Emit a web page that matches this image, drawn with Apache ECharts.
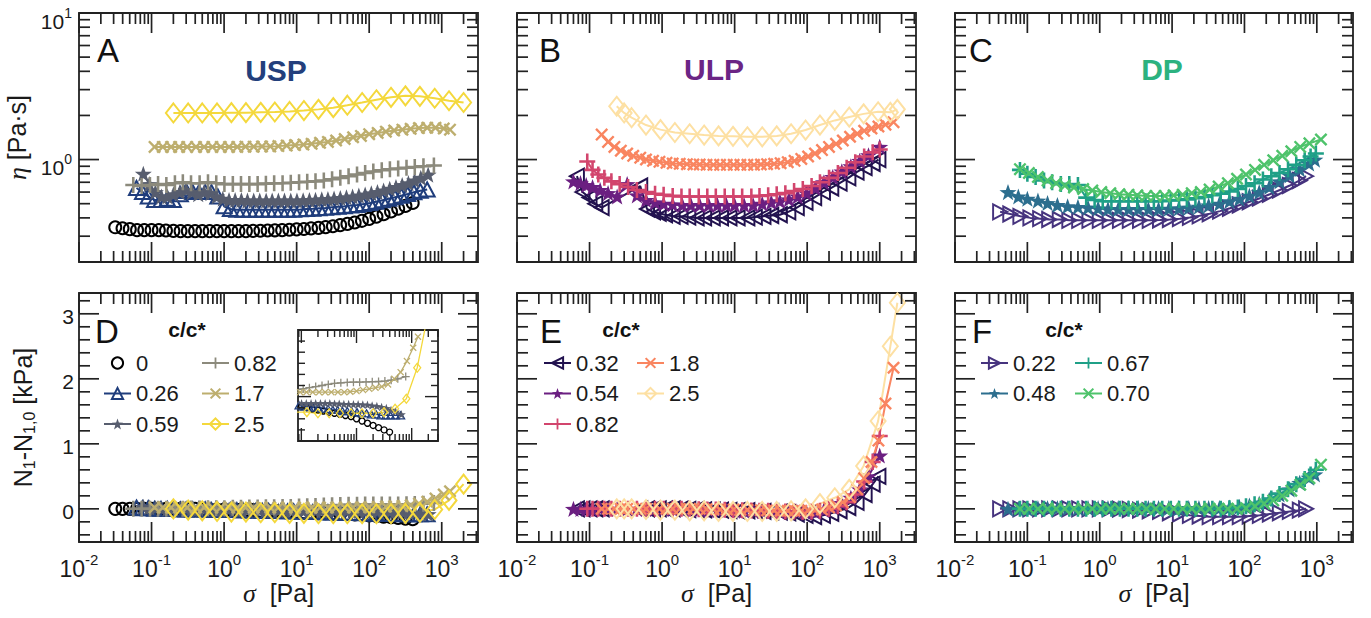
<!DOCTYPE html>
<html><head><meta charset="utf-8">
<script src="https://cdn.jsdelivr.net/npm/echarts@6.0.0/dist/echarts.min.js"></script>
<style>html,body{margin:0;padding:0;background:#fff}#c{width:1371px;height:618px}</style>
</head><body><div id="c"></div>
<script>
// ---------------- DATA ----------------
// USP (c/c*)
const USP_0_SIG = [0.0316,0.0398,0.0501,0.0631,0.0794,0.1,0.126,0.158,0.2,0.251, 0.316,0.398,0.501,0.631,0.794,1,1.26,1.58,2,2.51, 3.16,3.98,5.01,6.31,7.94,10,12.6,15.8,20,25.1, 31.6,39.8,50.1,63.1,79.4,100,126,158,200,251, 316,398];
const USP_0_ETA = [0.345,0.34,0.335,0.33,0.33,0.33,0.33,0.328,0.326,0.325, 0.325,0.325,0.325,0.325,0.325,0.325,0.325,0.325,0.325,0.326, 0.327,0.328,0.329,0.33,0.332,0.334,0.336,0.339,0.342,0.346, 0.351,0.357,0.364,0.372,0.382,0.394,0.408,0.424,0.442,0.462, 0.483,0.505];
const USP_0_N1 = [0,0,0,0,0,0,0,0,0,0, 0,0,-0.01,-0.01,-0.01,-0.01,-0.02,-0.02,-0.02,-0.02, -0.03,-0.03,-0.03,-0.04,-0.04,-0.045,-0.05,-0.055,-0.06,-0.065, -0.07,-0.075,-0.08,-0.085,-0.09,-0.1,-0.11,-0.12,-0.13,-0.14, -0.15,-0.16];

const USP_026_SIG = [0.062,0.075,0.09,0.11,0.135,0.165,0.2,0.25,0.3,0.37, 0.45,0.55,0.67,0.82,1,1.22,1.5,1.83,2.24,2.74, 3.35,4.1,5,6.1,7.5,9.1,11.2,13.7,16.7,20.4, 25,30.5,37.3,45.6,55.7,68,83,102,124,152, 186,227,277,339,414,506,630];
const USP_026_ETA = [0.64,0.6,0.56,0.53,0.53,0.54,0.53,0.58,0.61,0.6, 0.6,0.6,0.6,0.56,0.48,0.46,0.455,0.455,0.455,0.455, 0.455,0.455,0.455,0.455,0.455,0.455,0.457,0.46,0.462,0.465, 0.468,0.472,0.476,0.48,0.485,0.49,0.497,0.505,0.515,0.527, 0.54,0.553,0.567,0.582,0.598,0.612,0.625];
const USP_026_N1 = [0.02,0.01,0.01,0,0,0,0,-0.01,-0.01,-0.01, -0.01,-0.01,-0.02,-0.02,-0.02,-0.02,-0.02,-0.025,-0.025,-0.03, -0.03,-0.03,-0.035,-0.035,-0.04,-0.04,-0.045,-0.045,-0.05,-0.05, -0.055,-0.055,-0.06,-0.06,-0.065,-0.065,-0.07,-0.07,-0.075,-0.075, -0.08,-0.08,-0.085,-0.085,-0.085,-0.085,-0.085];

const USP_059_SIG = [0.077,0.093,0.113,0.137,0.166,0.2,0.245,0.3,0.36,0.44, 0.53,0.65,0.79,0.96,1.17,1.42,1.73,2.1,2.56,3.1, 3.8,4.6,5.6,6.8,8.3,10.1,12.3,15,18.2,22.2, 27,32.8,40,48.6,59,72,88,107,130,158, 192,234,285,347,422,514,650];
const USP_059_ETA = [0.8,0.68,0.6,0.56,0.56,0.58,0.6,0.62,0.6,0.58, 0.6,0.59,0.56,0.54,0.53,0.53,0.53,0.525,0.525,0.525, 0.525,0.525,0.525,0.525,0.525,0.525,0.527,0.53,0.532,0.535, 0.538,0.542,0.547,0.553,0.56,0.568,0.577,0.588,0.6,0.615, 0.632,0.65,0.67,0.69,0.72,0.75,0.79];
const USP_059_N1 = [0.03,0.02,0.01,0,0,0,0,0,0,0, 0,-0.005,-0.005,-0.01,-0.01,-0.01,-0.015,-0.015,-0.02,-0.02, -0.02,-0.025,-0.025,-0.025,-0.03,-0.03,-0.03,-0.03,-0.03,-0.03, -0.03,-0.03,-0.032,-0.032,-0.034,-0.034,-0.035,-0.035,-0.036,-0.037, -0.04,-0.043,-0.047,-0.052,-0.06,-0.068,-0.08];

const USP_082_SIG = [0.056,0.073,0.095,0.123,0.16,0.21,0.27,0.35,0.46,0.6, 0.78,1.01,1.32,1.71,2.23,2.9,3.77,4.9,6.4,8.3, 10.8,14,18.2,23.7,30.8,40,52,68,88,114, 149,193,251,327,425,560,780];
const USP_082_ETA = [0.67,0.66,0.67,0.68,0.67,0.69,0.7,0.69,0.69,0.7, 0.69,0.68,0.68,0.68,0.68,0.68,0.685,0.69,0.69,0.695, 0.7,0.705,0.71,0.72,0.735,0.75,0.77,0.79,0.81,0.83, 0.845,0.86,0.87,0.88,0.89,0.9,0.91];
const USP_082_N1 = [0,0,0,0,0,0,0,0.005,0.005,0.01, 0.01,0.01,0.015,0.015,0.02,0.02,0.025,0.025,0.03,0.03, 0.035,0.04,0.045,0.05,0.055,0.06,0.062,0.064,0.065,0.065, 0.066,0.067,0.068,0.07,0.074,0.08,0.09];

const USP_17_SIG = [0.11,0.143,0.186,0.24,0.31,0.41,0.53,0.69,0.9,1.17, 1.52,1.97,2.56,3.33,4.33,5.6,7.3,9.5,12.4,16.1, 21,27,35,46,60,77,100,131,170,221, 287,373,485,631,820,1066,1300];
const USP_17_ETA = [1.22,1.22,1.22,1.22,1.22,1.22,1.22,1.22,1.22,1.22, 1.22,1.225,1.225,1.23,1.23,1.235,1.245,1.255,1.265,1.28, 1.3,1.32,1.35,1.38,1.42,1.45,1.49,1.52,1.55,1.58, 1.6,1.62,1.64,1.65,1.65,1.63,1.6];
const USP_17_N1 = [0.02,0.02,0.02,0.02,0.02,0.02,0.02,0.02,0.02,0.02, 0.02,0.02,0.02,0.02,0.02,0.02,0.02,0.02,0.02,0.02, 0.02,0.02,0.02,0.02,0.02,0.022,0.025,0.03,0.035,0.04, 0.045,0.055,0.08,0.11,0.16,0.22,0.27];

const USP_25_SIG = [0.2,0.32,0.5,0.8,1.26,2,3.2,5,8,12.6, 20,32,50,80,126,200,316,500,800,1260, 2000];
const USP_25_ETA = [2.08,2.08,2.08,2.08,2.09,2.09,2.1,2.11,2.13,2.16, 2.2,2.26,2.35,2.45,2.56,2.66,2.72,2.7,2.62,2.52, 2.45];
const USP_25_N1 = [0,-0.02,-0.03,-0.04,-0.05,-0.05,-0.06,-0.06,-0.07,-0.07, -0.075,-0.075,-0.075,-0.075,-0.075,-0.075,-0.07,-0.055,-0.01,0.13, 0.38];

// ULP
const ULP_032_SIG = [0.067,0.08,0.1,0.12,0.147,0.5,0.62,0.75,0.9,1.1, 1.4,1.8,2.3,3,3.8,5,6.5,8.5,11,15, 19,25,32,42,55,72,95,125,165,215, 280,370,480,620,800,960];
const ULP_032_ETA = [0.77,0.6,0.55,0.5,0.47,0.66,0.46,0.44,0.43,0.42, 0.41,0.41,0.405,0.4,0.4,0.4,0.4,0.4,0.4,0.4, 0.405,0.41,0.415,0.42,0.44,0.47,0.51,0.55,0.6,0.64, 0.69,0.75,0.82,0.88,0.94,1.0];
const ULP_032_N1 = [0,0,0,0,0,0,0,0,0,0, 0,-0.005,-0.01,-0.01,-0.015,-0.02,-0.02,-0.025,-0.03,-0.03, -0.035,-0.04,-0.045,-0.05,-0.06,-0.08,-0.1,-0.12,-0.1,-0.07, -0.03,0.02,0.1,0.22,0.38,0.5];

const ULP_054_SIG = [0.06,0.075,0.09,0.11,0.14,0.18,0.24,0.33,0.45,0.6, 0.8,1.05,1.4,1.9,2.5,3.3,4.4,5.8,7.7,10, 13.5,18,24,32,42,56,74,98,130,170, 225,300,400,530,700,1000];
const ULP_054_ETA = [0.71,0.69,0.67,0.65,0.62,0.59,0.56,0.68,0.57,0.53, 0.51,0.5,0.495,0.49,0.49,0.49,0.49,0.49,0.49,0.49, 0.49,0.49,0.5,0.51,0.52,0.535,0.56,0.59,0.64,0.7, 0.76,0.83,0.9,0.98,1.07,1.22];
const ULP_054_N1 = [0,0,0,0,0,0,0,0,0,0, 0,0,0,-0.005,-0.01,-0.01,-0.015,-0.02,-0.02,-0.025, -0.03,-0.03,-0.035,-0.04,-0.045,-0.05,-0.055,-0.06,-0.05,-0.02, 0.03,0.09,0.17,0.3,0.5,0.82];

const ULP_082_SIG = [0.093,0.11,0.132,0.16,0.2,0.26,0.34,0.45,0.6,0.8, 1.05,1.4,1.85,2.4,3.2,4.2,5.5,7.3,9.6,12.7, 17,22,29,38,50,66,87,115,150,200, 265,350,460,610,800,1000];
const ULP_082_ETA = [0.97,0.85,0.79,0.75,0.71,0.68,0.65,0.62,0.6,0.585, 0.575,0.565,0.56,0.56,0.56,0.56,0.56,0.56,0.56,0.56, 0.56,0.565,0.57,0.58,0.59,0.61,0.63,0.66,0.7,0.75, 0.81,0.88,0.96,1.05,1.12,1.17];
const ULP_082_N1 = [0,0,0,0,0,0,0,0,0,0, 0,0,0,0,-0.005,-0.01,-0.01,-0.015,-0.02,-0.02, -0.025,-0.03,-0.03,-0.035,-0.04,-0.04,-0.045,-0.04,-0.03,0, 0.04,0.1,0.22,0.42,0.72,1.12];

const ULP_18_SIG = [0.147,0.18,0.22,0.27,0.33,0.4,0.5,0.6,0.75,0.92, 1.15,1.4,1.75,2.2,2.7,3.3,4.1,5.1,6.3,7.8, 9.7,12,15,18.5,23,28,35,43,54,67, 83,103,128,160,200,250,310,390,490,610, 770,960,1200,1550];
const ULP_18_ETA = [1.48,1.32,1.22,1.15,1.1,1.06,1.03,1.0,0.98,0.965, 0.95,0.94,0.935,0.93,0.925,0.925,0.92,0.92,0.92,0.92, 0.92,0.92,0.92,0.92,0.925,0.93,0.935,0.945,0.96,0.98, 1.01,1.05,1.1,1.16,1.22,1.28,1.35,1.43,1.5,1.57, 1.63,1.68,1.73,1.8];
const ULP_18_N1 = [0,0,0,0,0,0,0,0,0,0, 0,0,0,0,0,0,-0.005,-0.005,-0.01,-0.01, -0.01,-0.015,-0.015,-0.02,-0.02,-0.025,-0.025,-0.03,-0.03,-0.03, -0.03,-0.025,-0.02,-0.01,0.02,0.05,0.1,0.18,0.3,0.47, 0.72,1.05,1.62,2.17];

const ULP_25_SIG = [0.237,0.3,0.38,0.6,0.95,1.5,2.4,3.8,6,9.5, 15,24,38,60,95,150,240,380,600,950, 1400,1750];
const ULP_25_ETA = [2.31,2.08,1.93,1.72,1.6,1.53,1.5,1.47,1.45,1.44, 1.43,1.43,1.45,1.5,1.59,1.72,1.85,1.95,2.05,2.12, 2.1,2.2];
const ULP_25_N1 = [0,0,0,-0.01,-0.02,-0.02,-0.03,-0.03,-0.04,-0.04, -0.04,-0.04,-0.04,-0.03,0,0.08,0.17,0.3,0.66,1.35, 2.5,3.17];

// DP
const DP_022_SIG = [0.042,0.058,0.08,0.11,0.15,0.2,0.28,0.38,0.52,0.72, 1,1.37,1.9,2.6,3.6,4.9,6.8,9.3,12.8,17.6, 24,33,46,63,86,118,163,224,308,423, 581,710];
const DP_022_ETA = [0.44,0.425,0.41,0.4,0.395,0.39,0.39,0.385,0.385,0.385, 0.385,0.385,0.385,0.385,0.385,0.385,0.387,0.39,0.395,0.403, 0.413,0.427,0.445,0.465,0.49,0.515,0.545,0.58,0.62,0.665, 0.72,0.77];
const DP_022_N1 = [0,0,0,0,0,0,0,0,0,0, 0,0,-0.005,-0.01,-0.02,-0.03,-0.04,-0.06,-0.08,-0.1, -0.11,-0.12,-0.12,-0.12,-0.12,-0.11,-0.1,-0.08,-0.06,-0.04, -0.02,0];

const DP_048_SIG = [0.054,0.075,0.1,0.14,0.19,0.26,0.36,0.5,0.69,0.95, 1.3,1.8,2.5,3.4,4.7,6.5,9,12.4,17,23.5, 32,45,62,85,117,160,220,305,420,580, 780,940];
const DP_048_ETA = [0.6,0.56,0.54,0.525,0.505,0.49,0.48,0.475,0.47,0.465, 0.46,0.46,0.46,0.46,0.46,0.46,0.462,0.465,0.47,0.477, 0.487,0.5,0.52,0.54,0.565,0.6,0.65,0.71,0.78,0.86, 0.94,1.0];
const DP_048_N1 = [0,0,0,0.01,0.01,0.01,0.01,0.01,0.01,0.01, 0.01,0.01,0.01,0.01,0.01,0.01,0.01,0.01,0.01,0.01, 0.01,0.01,0.02,0.03,0.05,0.08,0.14,0.22,0.3,0.4, 0.48,0.53];

const DP_067_SIG = [0.079,0.1,0.13,0.17,0.22,0.29,0.38,0.5,0.65,0.85, 1.1,1.45,1.9,2.5,3.3,4.3,5.6,7.3,9.6,12.5, 16,21,28,36,47,62,81,105,138,180, 235,305,400,520,680,820,970];
const DP_067_ETA = [0.85,0.8,0.76,0.72,0.7,0.68,0.68,0.67,0.55,0.53, 0.52,0.52,0.52,0.52,0.52,0.52,0.52,0.52,0.525,0.53, 0.535,0.545,0.555,0.57,0.585,0.605,0.63,0.66,0.69,0.73, 0.77,0.81,0.86,0.92,0.99,1.05,1.1];
const DP_067_N1 = [0,0,0,0,0,0,0,0,0,0, 0,0,0,0,0,0,0,0,0,0, 0,0,0,0,0,0.01,0.02,0.04,0.07,0.11, 0.16,0.23,0.3,0.38,0.46,0.53,0.6];

const DP_070_SIG = [0.079,0.105,0.14,0.19,0.25,0.33,0.44,0.59,0.79,1.05, 1.4,1.87,2.5,3.3,4.4,5.9,7.9,10.5,14,18.7, 25,33,44,59,79,105,140,187,250,333, 444,590,790,1140];
const DP_070_ETA = [0.86,0.81,0.76,0.72,0.69,0.665,0.645,0.63,0.615,0.6, 0.59,0.58,0.575,0.57,0.565,0.565,0.565,0.57,0.575,0.59, 0.6,0.625,0.655,0.69,0.74,0.79,0.85,0.92,0.99,1.06, 1.14,1.22,1.29,1.37];
const DP_070_N1 = [0,0,0,0,0,0,0,0,0,0, 0,0,0,0,0,0,0,0,0,0, 0,0,0,0,0,0.01,0.04,0.08,0.13,0.2, 0.28,0.37,0.47,0.68];

// axis ranges and tick values
const X_RANGE = [0.01, 3162.28];
const INSET_X_RANGE = [8.7, 3000];
const ETA_RANGE = [0.2, 10];
const N1_RANGE = [-0.51, 3.32];
const INSET_Y_RANGE = [-0.2, 0.3];
const N1_TICKS = [-0.4,-0.2,0,0.2,0.4,0.6,0.8,1,1.2,1.4,1.6,1.8,2,2.2,2.4,2.6,2.8,3,3.2];
const N1_LABELS = [0, 1, 2, 3];
const INSET_Y_TICKS = [-0.15,-0.1,-0.05,0,0.05,0.1,0.15,0.2,0.25];

// ---------------- STYLE ----------------
const FONT = '"Liberation Sans", Arial, sans-serif';
const SERIF = '"Liberation Serif", "DejaVu Serif", serif';
const TXT = '#1a1a1a';
const STAR = 'path://M5,0L6.18,3.38L9.76,3.45L6.9,5.62L7.94,9.05L5,7L2.06,9.05L3.1,5.62L0.24,3.45L3.82,3.38Z';
const PLUS = 'path://M4.2,0L5.8,0L5.8,4.2L10,4.2L10,5.8L5.8,5.8L5.8,10L4.2,10L4.2,5.8L0,5.8L0,4.2L4.2,4.2Z';
const CROSS = 'path://M0,1.3L1.3,0L5,3.7L8.7,0L10,1.3L6.3,5L10,8.7L8.7,10L5,6.3L1.3,10L0,8.7L3.7,5Z';
const SYM = {
  circle: {symbol:'circle', size:12, sizeS:6, hollow:true, rot:0},
  triUp: {symbol:'triangle', size:[15,14], sizeS:[8,7], hollow:true, rot:0},
  triLeft: {symbol:'triangle', size:[15,14], sizeS:[8,7], hollow:true, rot:90},
  triRight: {symbol:'triangle', size:[15,14], sizeS:[8,7], hollow:true, rot:-90},
  star: {symbol:STAR, size:17, sizeS:9, hollow:false, rot:0},
  plus: {symbol:PLUS, size:16, sizeS:8, hollow:false, rot:0},
  cross: {symbol:CROSS, size:13, sizeS:7, hollow:false, rot:0},
  diamond: {symbol:'diamond', size:[15,19], sizeS:[7,9], hollow:true, rot:0}
};

const SAMPLES = {
  USP: [
    {label:'0', color:'#000000', style:'circle', noLine:true, sig:USP_0_SIG, eta:USP_0_ETA, n1:USP_0_N1},
    {label:'0.26', color:'#1f3d7c', style:'triUp', sig:USP_026_SIG, eta:USP_026_ETA, n1:USP_026_N1},
    {label:'0.59', color:'#575d6e', style:'star', sig:USP_059_SIG, eta:USP_059_ETA, n1:USP_059_N1},
    {label:'0.82', color:'#8c8a7c', style:'plus', sig:USP_082_SIG, eta:USP_082_ETA, n1:USP_082_N1},
    {label:'1.7', color:'#bdae6e', style:'cross', sig:USP_17_SIG, eta:USP_17_ETA, n1:USP_17_N1},
    {label:'2.5', color:'#f4d83c', style:'diamond', sig:USP_25_SIG, eta:USP_25_ETA, n1:USP_25_N1}
  ],
  ULP: [
    {label:'0.32', color:'#22124f', style:'triLeft', sig:ULP_032_SIG, eta:ULP_032_ETA, n1:ULP_032_N1},
    {label:'0.54', color:'#6b1f81', style:'star', sig:ULP_054_SIG, eta:ULP_054_ETA, n1:ULP_054_N1},
    {label:'0.82', color:'#d2456d', style:'plus', sig:ULP_082_SIG, eta:ULP_082_ETA, n1:ULP_082_N1},
    {label:'1.8', color:'#f98560', style:'cross', sig:ULP_18_SIG, eta:ULP_18_ETA, n1:ULP_18_N1},
    {label:'2.5', color:'#fde0a3', style:'diamond', sig:ULP_25_SIG, eta:ULP_25_ETA, n1:ULP_25_N1}
  ],
  DP: [
    {label:'0.22', color:'#46337e', style:'triRight', sig:DP_022_SIG, eta:DP_022_ETA, n1:DP_022_N1},
    {label:'0.48', color:'#2c6e8e', style:'star', sig:DP_048_SIG, eta:DP_048_ETA, n1:DP_048_N1},
    {label:'0.67', color:'#1fa087', style:'plus', sig:DP_067_SIG, eta:DP_067_ETA, n1:DP_067_N1},
    {label:'0.70', color:'#4ec36b', style:'cross', sig:DP_070_SIG, eta:DP_070_ETA, n1:DP_070_N1}
  ]
};
Object.keys(SAMPLES).forEach(k => SAMPLES[k].forEach(s => {
  if (s.sig.length !== s.eta.length || s.sig.length !== s.n1.length)
    throw new Error('length mismatch ' + k + ' ' + s.label + ' ' + s.sig.length + '/' + s.eta.length + '/' + s.n1.length);
}));

// ---------------- LAYOUT ----------------
const GRIDS = [
  {left:79, top:13, width:399, height:249},
  {left:517, top:13, width:399, height:249},
  {left:955, top:13, width:398, height:249},
  {left:79, top:293, width:399, height:249},
  {left:517, top:293, width:399, height:249},
  {left:955, top:293, width:398, height:249},
  {left:298, top:330, width:140, height:111}
];

const XLBL_RICH = {
  b: {fontSize:23, lineHeight:28, verticalAlign:'bottom', color:TXT, fontFamily:FONT},
  s: {fontSize:15, lineHeight:14, verticalAlign:'top', color:TXT, fontFamily:FONT}
};
const YLBL_RICH = {
  b: {fontSize:21, lineHeight:26, verticalAlign:'bottom', color:TXT, fontFamily:FONT},
  s: {fontSize:14, lineHeight:12, verticalAlign:'top', color:TXT, fontFamily:FONT}
};
const NAME_RICH = {
  b: {fontSize:25, lineHeight:28, color:TXT, fontFamily:FONT},
  i: {fontSize:26, lineHeight:28, color:TXT, fontFamily:SERIF, fontStyle:'italic'},
  u: {fontSize:16, lineHeight:14, verticalAlign:'bottom', color:TXT, fontFamily:FONT}
};
function logLabel(v) {
  const e = Math.log10(v), r = Math.round(e);
  if (Math.abs(e - r) > 1e-6) return '';
  return '{b|10}{s|' + r + '}';
}
function intLabel(v) {
  const r = Math.round(v);
  return (Math.abs(v - r) < 1e-6 && N1_LABELS.indexOf(r) >= 0) ? '{b|' + r + '}' : '';
}
function logTicks(lo, hi) {
  const out = [];
  for (let e = Math.floor(Math.log10(lo)); e <= Math.ceil(Math.log10(hi)); e++)
    for (let k = 1; k <= 9; k++) {
      const v = k * Math.pow(10, e);
      if (v >= lo * 0.999 && v <= hi * 1.001) out.push([v, k === 1 ? 1 : 0]);
    }
  return out;
}
function linTicks(list, majorFn) { return list.map(v => [v, majorFn(v) ? 1 : 0]); }

const xAxes = [], yAxes = [];
GRIDS.forEach((g, gi) => {
  const inset = gi === 6, bottom = gi >= 3 && gi <= 5;
  xAxes.push({
    gridIndex: gi, type: 'log', logBase: 10,
    min: inset ? INSET_X_RANGE[0] : X_RANGE[0], max: inset ? INSET_X_RANGE[1] : X_RANGE[1],
    axisLine: {show: false, onZero: false}, axisTick: {show: false}, splitLine: {show: false},
    minorTick: {show: false}, minorSplitLine: {show: false},
    axisLabel: bottom ? {show: true, formatter: logLabel, rich: XLBL_RICH, margin: 10, hideOverlap: false} : {show: false},
    name: bottom ? '{i|σ}{b|  [Pa]}' : '', nameLocation: 'middle', nameGap: 37, nameMoveOverlap: false,
    nameTextStyle: {rich: NAME_RICH}
  });
  const top = gi <= 2;
  const y = {
    gridIndex: gi, axisLine: {show: false, onZero: false}, axisTick: {show: false}, splitLine: {show: false},
    minorTick: {show: false}, minorSplitLine: {show: false}, axisLabel: {show: false}
  };
  if (top) { y.type = 'log'; y.logBase = 10; y.min = ETA_RANGE[0]; y.max = ETA_RANGE[1]; }
  else if (inset) { y.type = 'value'; y.min = INSET_Y_RANGE[0]; y.max = INSET_Y_RANGE[1]; }
  else { y.type = 'value'; y.min = N1_RANGE[0]; y.max = N1_RANGE[1]; }
  if (gi === 0) {
    y.axisLabel = {show: true, formatter: logLabel, rich: YLBL_RICH, margin: 7, padding: [11, 0, 0, 0]};
    y.name = '{i|η}{b| [Pa·s]}'; y.nameLocation = 'middle'; y.nameRotate = 90; y.nameGap = 48;
    y.nameMoveOverlap = false; y.nameTextStyle = {rich: NAME_RICH};
  }
  if (gi === 3) {
    y.axisLabel = {show: true, formatter: intLabel, rich: YLBL_RICH, margin: 5};
    y.name = '{b|N}{u|1}{b|-N}{u|1,0}{b| [kPa]}'; y.nameLocation = 'middle'; y.nameRotate = 90; y.nameGap = 42;
    y.nameMoveOverlap = false; y.nameTextStyle = {rich: NAME_RICH};
  }
  yAxes.push(y);
});

// ---------------- SERIES ----------------
const series = [];
function mk(name, gi, sig, vals, s, small) {
  const m = SYM[s.style];
  return {
    type: 'line', name, xAxisIndex: gi, yAxisIndex: gi,
    data: sig.map((x, i) => [x, vals[i]]),
    symbol: m.symbol, symbolSize: small ? m.sizeS : m.size, symbolRotate: m.rot, symbolKeepAspect: true,
    showSymbol: true, showAllSymbol: true, clip: true, silent: true, animation: false,
    lineStyle: {color: s.color, width: s.noLine ? 0 : (small ? 1.3 : 2), opacity: s.noLine ? 0 : 1},
    itemStyle: m.hollow ? {color: 'rgba(255,255,255,0)', borderColor: s.color, borderWidth: small ? 1.3 : 2}
                        : {color: s.color, borderWidth: 0},
    emphasis: {disabled: true}
  };
}
const PANELS = [['USP', 0, 3, 'D'], ['ULP', 1, 4, 'E'], ['DP', 2, 5, 'F']];
PANELS.forEach(([k, gt]) => SAMPLES[k].forEach(s => series.push(mk(k + 'eta|' + s.label, gt, s.sig, s.eta, s, false))));
PANELS.forEach(([k, gt, gb, L]) => SAMPLES[k].forEach(s => series.push(mk(L + '|' + s.label, gb, s.sig, s.n1, s, false))));
SAMPLES.USP.forEach(s => series.push(mk('inset|' + s.label, 6, s.sig, s.n1, s, true)));

// tick marks (drawn through the axes' own scales)
function tickSeries(gi, xr, yr, xt, yt, LMaj, LMin, lw) {
  const data = [];
  xt.forEach(t => data.push([t[0], yr[0], 0, t[1]]));
  yt.forEach(t => data.push([xr[0], t[0], 1, t[1]]));
  return {
    type: 'custom', xAxisIndex: gi, yAxisIndex: gi, silent: true, clip: false, z: 10, animation: false,
    encode: {x: 0, y: 1}, data,
    renderItem: function (params, api) {
      const kind = api.value(2), L = api.value(3) ? LMaj : LMin;
      const st = {stroke: '#222', lineWidth: lw};
      if (kind === 0) {
        const v = api.value(0);
        const b = api.coord([v, yr[0]]), t = api.coord([v, yr[1]]);
        return {type: 'group', children: [
          {type: 'line', shape: {x1: b[0], y1: b[1], x2: b[0], y2: b[1] - L}, style: st},
          {type: 'line', shape: {x1: t[0], y1: t[1], x2: t[0], y2: t[1] + L}, style: st}]};
      }
      const v = api.value(1);
      const l = api.coord([xr[0], v]), r = api.coord([xr[1], v]);
      return {type: 'group', children: [
        {type: 'line', shape: {x1: l[0], y1: l[1], x2: l[0] + L, y2: l[1]}, style: st},
        {type: 'line', shape: {x1: r[0], y1: r[1], x2: r[0] - L, y2: r[1]}, style: st}]};
    }
  };
}
const isInt = v => Math.abs(v - Math.round(v)) < 1e-9;
for (let gi = 0; gi < 6; gi++) {
  const yr = gi <= 2 ? ETA_RANGE : N1_RANGE;
  const yt = gi <= 2 ? logTicks(ETA_RANGE[0], ETA_RANGE[1]) : linTicks(N1_TICKS, isInt);
  series.push(tickSeries(gi, X_RANGE, yr, logTicks(X_RANGE[0], X_RANGE[1]), yt, 20, 11, 1.7));
}
series.push(tickSeries(6, INSET_X_RANGE, INSET_Y_RANGE, logTicks(INSET_X_RANGE[0], INSET_X_RANGE[1]),
  linTicks(INSET_Y_TICKS, v => Math.abs(v) < 1e-9), 13, 7, 1.4));

// legends
function legendCol(names, left, top) {
  return {
    data: names, left, top, orient: 'vertical', itemWidth: 27, itemHeight: 14, itemGap: 8.5, padding: 0,
    selectedMode: false, formatter: n => n.split('|')[1],
    textStyle: {fontSize: 22, lineHeight: 22, color: TXT, fontFamily: FONT}
  };
}
const legends = [
  legendCol(['D|0', 'D|0.26', 'D|0.59'], 103, 352),
  legendCol(['D|0.82', 'D|1.7', 'D|2.5'], 201, 352),
  legendCol(['E|0.32', 'E|0.54', 'E|0.82'], 543, 352),
  legendCol(['E|1.8', 'E|2.5'], 636, 352),
  legendCol(['F|0.22', 'F|0.48'], 980, 352),
  legendCol(['F|0.67', 'F|0.70'], 1074, 352)
];

// text annotations
function txt(t, x, y, size, color, weight, align) {
  return {type: 'text', x, y, silent: true, z: 20,
    style: {text: t, fontSize: size, fontFamily: FONT, fontWeight: weight || 'normal', fill: color,
      align: align || 'left', verticalAlign: 'middle'}};
}
const graphics = [
  txt('A', 97, 50, 33, '#111'), txt('B', 539, 50, 33, '#111'), txt('C', 969, 50, 33, '#111'),
  txt('D', 95, 331, 33, '#111'), txt('E', 540, 331, 33, '#111'), txt('F', 972, 331, 33, '#111'),
  txt('USP', 276, 70, 30, '#233f7c', 'bold', 'center'),
  txt('ULP', 714, 69, 30, '#6b2585', 'bold', 'center'),
  txt('DP', 1162, 69, 30, '#2cb27f', 'bold', 'center'),
  txt('c/c*', 187, 329, 21, '#111', 'bold', 'center'),
  txt('c/c*', 621, 329, 21, '#111', 'bold', 'center'),
  txt('c/c*', 1064, 329, 21, '#111', 'bold', 'center')
];

const chart = echarts.init(document.getElementById('c'), null, {renderer: 'svg', width: 1371, height: 618});
chart.setOption({
  animation: false,
  backgroundColor: '#ffffff',
  textStyle: {fontFamily: FONT},
  grid: GRIDS.map(g => Object.assign({show: true, borderColor: '#222', borderWidth: 1.8,
    backgroundColor: 'rgba(0,0,0,0)', containLabel: false, outerBoundsMode: 'none'}, g)),
  xAxis: xAxes,
  yAxis: yAxes,
  legend: legends,
  series,
  graphic: graphics
});
</script></body></html>
